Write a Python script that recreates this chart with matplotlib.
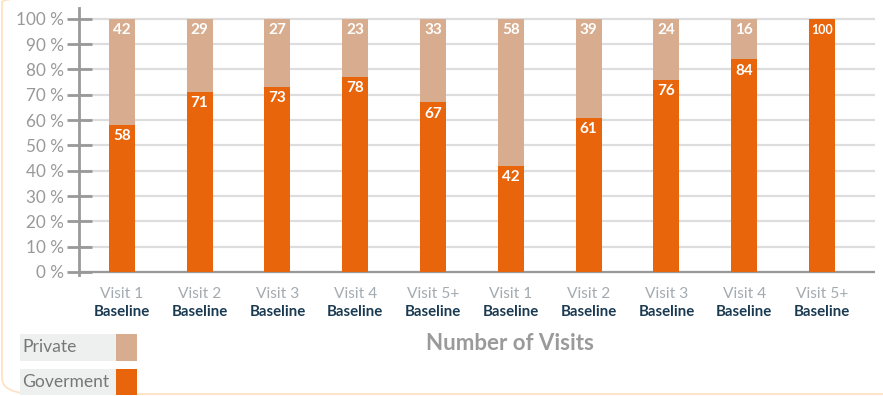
import matplotlib.pyplot as plt
from matplotlib.patches import FancyBboxPatch, Rectangle
import numpy as np

plt.rcParams['font.family'] = ['Lato', 'DejaVu Sans']

# -------------------------
# Data
# -------------------------
visits = ["Visit 1", "Visit 2", "Visit 3", "Visit 4", "Visit 5+",
          "Visit 1", "Visit 2", "Visit 3", "Visit 4", "Visit 5+"]
groups = ["Baseline"] * 10
government = [58, 71, 73, 78, 67, 42, 61, 76, 84, 100]
private = [42, 29, 27, 23, 33, 58, 39, 24, 16, 0]
yticks = list(range(0, 101, 10))

GOV = "#e8650c"
PRIV = "#d8ad8f"

# 100% stacked shares
gov = np.array(government, dtype=float)
priv = np.array(private, dtype=float)
total = gov + priv
gov_pct = gov / total * 100
priv_pct = priv / total * 100

W, H = 883, 396
fig = plt.figure(figsize=(W / 100, H / 100), dpi=100)
fig.patch.set_facecolor("white")

# rounded light-orange frame (top and right run off the canvas)
frame = FancyBboxPatch((2 / W, 2 / H), 1.2, 1.03,
                       boxstyle="round,pad=0,rounding_size=0.04",
                       transform=fig.transFigure, facecolor="none",
                       edgecolor="#fde3c6", lw=1.3, zorder=0)
fig.patches.append(frame)

ax = fig.add_axes([79 / W, (396 - 275) / H, 796 / W, 267 / H])
x = np.arange(len(visits))

ax.bar(x, gov_pct, width=0.334, color=GOV, zorder=3)
ax.bar(x, priv_pct, width=0.334, bottom=gov_pct, color=PRIV, zorder=3)

# value labels
for i in range(len(x)):
    g, p = government[i], private[i]
    fs = 9 if g >= 100 else 11
    ax.text(x[i], gov_pct[i] - 4.4, f"{g}", ha="center", va="center",
            color="white", fontsize=fs, fontweight="bold", zorder=4)
    if p > 0:
        ax.text(x[i], 100 - 4.4, f"{p}", ha="center", va="center",
                color="white", fontsize=11, fontweight="bold", zorder=4)

ax.set_xlim(-0.55, 9.68)
ax.set_ylim(-1.2, 104.3)
ax.set_yticks(yticks)
ax.set_yticklabels([f"{t} %" for t in yticks])
ax.tick_params(axis="y", direction="inout", length=18, width=2, color="#999999",
               labelcolor="#999999", labelsize=12.3, pad=2)
ax.set_xticks([])

for s in ["top", "right", "bottom"]:
    ax.spines[s].set_visible(False)
ax.spines["left"].set_color("#999999")
ax.spines["left"].set_linewidth(2)

ax.yaxis.grid(True, color="#dddddd", lw=1.6, zorder=0)
ax.set_axisbelow(True)
ax.axhline(0, color="#999999", lw=1.6, zorder=2)

# two-line category labels
for i in range(len(x)):
    ax.text(x[i], -0.07, visits[i], transform=ax.get_xaxis_transform(),
            ha="center", va="center", color="#a4abb0", fontsize=11.2)
    ax.text(x[i], -0.138, groups[i], transform=ax.get_xaxis_transform(),
            ha="center", va="center", color="#1a3a52", fontsize=10.8,
            fontweight="bold")

fig.text(510 / W, 1 - 343 / H, "Number of Visits", ha="center", va="center",
         color="#9a9a9a", fontsize=16, fontweight="bold")

# legend
legend_items = [("Private", PRIV, 334, 361), ("Goverment", GOV, 369, 395)]
for name, col, y0, y1 in legend_items:
    fig.patches.append(Rectangle((20 / W, 1 - y1 / H), 96 / W, (y1 - y0) / H,
                                 transform=fig.transFigure, facecolor="#eef0ef",
                                 edgecolor="none"))
    fig.patches.append(Rectangle((116 / W, 1 - y1 / H), 21 / W, (y1 - y0) / H,
                                 transform=fig.transFigure, facecolor=col,
                                 edgecolor="none"))
    fig.text(22 / W, 1 - (y0 + y1) / 2 / H, name, ha="left", va="center",
             color="#777777", fontsize=12.6)

fig.savefig("out.png", dpi=100)
